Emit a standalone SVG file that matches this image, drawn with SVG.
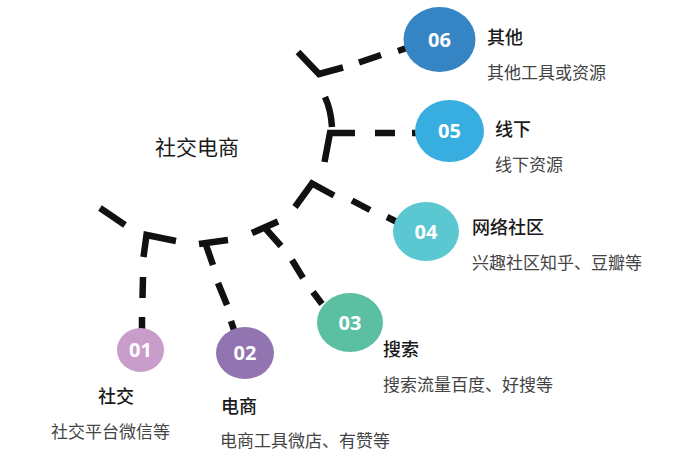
<svg xmlns="http://www.w3.org/2000/svg" width="700" height="460" viewBox="0 0 700 460">
<style>
  .c { fill: none; stroke: #111; stroke-width: 6.5; stroke-linecap: butt; stroke-linejoin: miter; }
  .num { font-family: "Open Sans", "Noto Sans", sans-serif; font-weight: 700; font-size: 20px; fill: #fff; text-anchor: middle; }
  .t { font-family: "Noto Sans CJK SC", "Noto Sans", sans-serif; font-weight: 500; font-size: 18px; fill: #1a1a1a; }
  .d { font-family: "Noto Sans CJK SC", "Noto Sans", sans-serif; font-size: 17px; fill: #444; }
  .h { font-family: "Noto Sans CJK SC", "Noto Sans", sans-serif; font-size: 21px; fill: #1a1a1a; }
</style>
<rect width="700" height="460" fill="#fff"/>
<g id="connectors">
  <path class="c" d="M100,208 L125,225"/>
  <path class="c" d="M143.5,257 L146.5,235 L176,241"/>
  <path class="c" d="M199,244 L228,240 M205.5,243.5 L213,265"/>
  <path class="c" d="M252,233 L278,221.5 M265,228 L281,246"/>
  <path class="c" d="M295,207 L312,183.5 L334,195.5"/>
  <path class="c" d="M324.5,162 L330,133 L355,133"/>
  <path class="c" d="M325,97 Q331,110 332,127"/>
  <path class="c" d="M298,52 L319,74 L343,67.5"/>
  <path class="c" d="M359,62.5 L381,55 M398,51 L408,47.5"/>
  <path class="c" d="M375,133 L395,133 M412,133 L418,133"/>
  <path class="c" d="M352,200.5 L370,210 M387,217 L397,222"/>
  <path class="c" d="M143,277 L142.5,298 M142,317 L142,332"/>
  <path class="c" d="M218,283 L227,305 M231,321 L234,330"/>
  <path class="c" d="M292,260 L303,278 M313,292 L322,304"/>
</g>
<text class="h" x="155" y="155">社交电商</text>
<g id="n01">
  <ellipse cx="140.5" cy="350" rx="23.5" ry="22" fill="#c99dc9"/>
  <text class="num" x="140.5" y="357">01</text>
  <text class="t" x="98" y="403">社交</text>
  <text class="d" x="51" y="438">社交平台微信等</text>
</g>
<g id="n02">
  <ellipse cx="245" cy="353" rx="29" ry="26" fill="#9174b0"/>
  <text class="num" x="245" y="360">02</text>
  <text class="t" x="221" y="413">电商</text>
  <text class="d" x="220" y="447">电商工具微店、有赞等</text>
</g>
<g id="n03">
  <ellipse cx="350" cy="322.5" rx="33" ry="29.5" fill="#5bbfa1"/>
  <text class="num" x="350" y="329.5">03</text>
  <text class="t" x="383" y="356">搜索</text>
  <text class="d" x="383" y="391">搜索流量百度、好搜等</text>
</g>
<g id="n04">
  <ellipse cx="426" cy="231.5" rx="33" ry="29.5" fill="#5bc8d1"/>
  <text class="num" x="426" y="238.5">04</text>
  <text class="t" x="472" y="234">网络社区</text>
  <text class="d" x="472" y="269">兴趣社区知乎、豆瓣等</text>
</g>
<g id="n05">
  <ellipse cx="449.5" cy="131" rx="34.5" ry="31" fill="#38aee0"/>
  <text class="num" x="449.5" y="138">05</text>
  <text class="t" x="495" y="136">线下</text>
  <text class="d" x="495" y="171">线下资源</text>
</g>
<g id="n06">
  <ellipse cx="439.5" cy="39.5" rx="36" ry="32.5" fill="#3584c4"/>
  <text class="num" x="439.5" y="46.5">06</text>
  <text class="t" x="487" y="44">其他</text>
  <text class="d" x="487" y="79">其他工具或资源</text>
</g>
</svg>
